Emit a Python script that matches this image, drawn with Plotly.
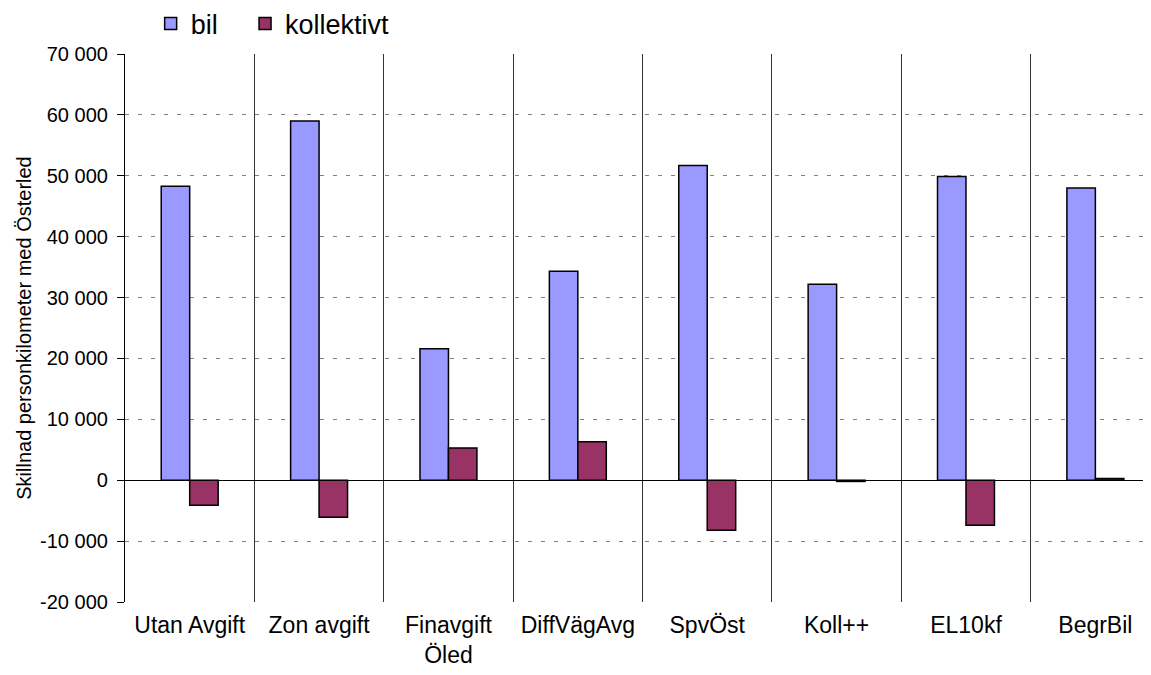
import plotly.graph_objects as go

scenarios = ["Utan Avgift", "Zon avgift", "Finavgift<br>Öled", "DiffVägAvg",
             "SpvÖst", "Koll++", "EL10kf", "BegrBil"]
bil = [48300, 59000, 21600, 34300, 51700, 32200, 49900, 48000]
kollektivt = [-4100, -6100, 5300, 6300, -8200, -200, -7400, 300]

y_ticks = [70000, 60000, 50000, 40000, 30000, 20000, 10000, 0, -10000, -20000]
y_labels = ["70 000", "60 000", "50 000", "40 000", "30 000", "20 000",
            "10 000", "0", "-10 000", "-20 000"]

font = "Liberation Sans, Arial"

fig = go.Figure()
fig.add_trace(go.Bar(name="bil", x=scenarios, y=bil, legend="legend",
                     marker=dict(color="#9999FF", line=dict(color="black", width=1.5))))
fig.add_trace(go.Bar(name="kollektivt", x=scenarios, y=kollektivt, legend="legend2",
                     marker=dict(color="#993366", line=dict(color="black", width=1.5))))

fig.update_xaxes(tickson="boundaries", showgrid=True, gridcolor="#333333", gridwidth=1,
                 ticks="", range=[-0.5, 7.43], showline=False, automargin=False,
                 ticklabelstandoff=7,
                 tickfont=dict(family=font, size=23, color="black"))
fig.update_yaxes(range=[-20000, 70000], tickvals=y_ticks, ticktext=y_labels,
                 showgrid=True, gridcolor="#808080", griddash="4px,9px", gridwidth=1,
                 zeroline=True, zerolinecolor="black", zerolinewidth=1.2,
                 showline=True, linecolor="black", linewidth=1.2,
                 ticks="outside", ticklen=7, tickcolor="black", automargin=False,
                 ticklabelstandoff=5,
                 tickfont=dict(family=font, size=20, color="black"),
                 title=dict(text="Skillnad personkilometer med Österled", standoff=3,
                            font=dict(family=font, size=20, color="black")))

legend_font = dict(family=font, size=27, color="black")

# page body has an 8px margin, so the figure is a bit smaller than the window
fig.update_layout(width=1143, height=667, barmode="group", bargap=0.56, bargroupgap=0,
                  margin=dict(l=117, r=0, t=46, b=73, autoexpand=False),
                  plot_bgcolor="white", paper_bgcolor="white",
                  legend=dict(orientation="h", x=0.025, y=1.055,
                              xanchor="left", yanchor="middle", font=legend_font),
                  legend2=dict(orientation="h", x=0.117, y=1.055,
                               xanchor="left", yanchor="middle", font=legend_font),
                  showlegend=True)

fig.write_html("out.html")
